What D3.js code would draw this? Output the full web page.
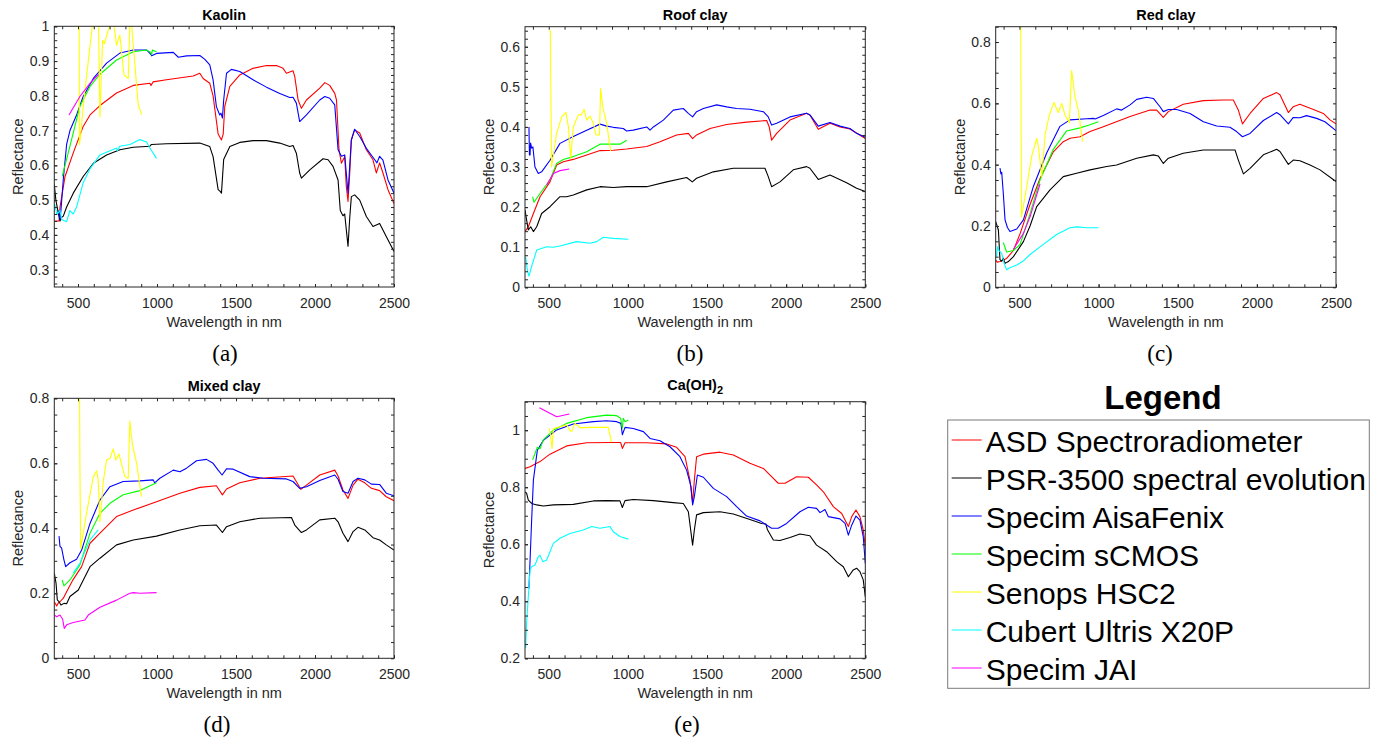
<!DOCTYPE html>
<html>
<head>
<meta charset="utf-8">
<script src="https://cdn.jsdelivr.net/npm/d3@7"></script>
<style>
  body { margin: 0; background: #fff; }
  svg { display: block; }
</style>
</head>
<body>
<svg id="canvas" width="1379" height="741"></svg>
<script>
// legend entries, in drawing order
let instruments = ["ASD Spectroradiometer", "PSR-3500 spectral evolution", "Specim AisaFenix",
  "Specim sCMOS", "Senops HSC2", "Cubert Ultris X20P", "Specim JAI"];
let colors = ["#ff0000", "#000000", "#0000ff", "#00ff00", "#ffff00", "#00ffff", "#ff00ff"];

let xTickValues = [500, 1000, 1500, 2000, 2500];
let kaolinYTicks = [0.3, 0.4, 0.5, 0.6, 0.7, 0.8, 0.9, 1];
let roofYTicks = [0, 0.1, 0.2, 0.3, 0.4, 0.5, 0.6];
let redYTicks = [0, 0.2, 0.4, 0.6, 0.8];
let mixedYTicks = [0, 0.2, 0.4, 0.6, 0.8];
let caYTicks = [0.2, 0.4, 0.6, 0.8, 1];

// [wavelength nm, reflectance]
let kaolinASD = [[350,0.44],[380,0.44],[386,0.48],[418,0.568],[470,0.636],[533,0.712],[576,0.745],[639,0.772],[744,0.808],[850,0.83],[955,0.836],[962,0.83],[975,0.84],[1060,0.846],[1229,0.857],[1271,0.865],[1292,0.85],[1334,0.836],[1355,0.80],[1387,0.69],[1408,0.673],[1419,0.69],[1429,0.77],[1461,0.827],[1524,0.86],[1608,0.879],[1693,0.887],[1756,0.887],[1798,0.879],[1819,0.865],[1861,0.872],[1872,0.855],[1893,0.788],[1914,0.764],[1946,0.788],[2030,0.822],[2062,0.838],[2093,0.83],[2125,0.807],[2136,0.788],[2152,0.645],[2167,0.606],[2188,0.625],[2198,0.54],[2209,0.496],[2220,0.578],[2230,0.673],[2251,0.702],[2283,0.693],[2325,0.645],[2367,0.616],[2388,0.578],[2409,0.607],[2430,0.578],[2462,0.53],[2500,0.49]];
let kaolinPSR = [[350,0.545],[360,0.5],[375,0.463],[386,0.44],[395,0.45],[407,0.454],[428,0.48],[470,0.52],[533,0.568],[597,0.606],[681,0.63],[765,0.645],[850,0.652],[955,0.655],[965,0.66],[1060,0.662],[1271,0.664],[1334,0.654],[1355,0.625],[1387,0.53],[1400,0.525],[1408,0.52],[1422,0.617],[1461,0.654],[1524,0.666],[1608,0.671],[1693,0.671],[1777,0.664],[1840,0.654],[1861,0.657],[1882,0.635],[1903,0.578],[1914,0.563],[1967,0.587],[2051,0.619],[2083,0.616],[2114,0.597],[2146,0.558],[2160,0.47],[2177,0.455],[2188,0.46],[2209,0.367],[2220,0.45],[2230,0.51],[2251,0.515],[2283,0.5],[2325,0.453],[2367,0.424],[2409,0.433],[2451,0.395],[2500,0.352]];
let kaolinFenix = [[378,0.47],[386,0.444],[392,0.47],[407,0.56],[428,0.66],[449,0.70],[491,0.745],[533,0.798],[597,0.85],[681,0.894],[765,0.923],[850,0.932],[934,0.932],[960,0.92],[966,0.915],[997,0.922],[1103,0.925],[1135,0.911],[1187,0.915],[1271,0.916],[1303,0.905],[1334,0.889],[1355,0.846],[1376,0.769],[1397,0.745],[1405,0.75],[1414,0.736],[1422,0.788],[1440,0.865],[1471,0.876],[1524,0.87],[1608,0.846],[1693,0.825],[1777,0.807],[1840,0.795],[1861,0.796],[1882,0.779],[1903,0.726],[1946,0.745],[2030,0.788],[2062,0.798],[2093,0.793],[2125,0.774],[2146,0.645],[2167,0.626],[2188,0.63],[2209,0.52],[2220,0.6],[2230,0.673],[2251,0.704],[2283,0.683],[2325,0.649],[2378,0.616],[2392,0.607],[2409,0.626],[2430,0.615],[2462,0.558],[2500,0.52]];
let kaolinSCMOS = [[400,0.568],[449,0.655],[512,0.77],[576,0.827],[639,0.862],[744,0.903],[850,0.927],[934,0.932],[960,0.925],[966,0.918],[971,0.932],[997,0.927]];
let kaolinHSC2 = [[506,1.3],[509,0.66],[515,0.68],[540,0.8],[565,0.9],[586,0.98],[600,1.05],[618,1.02],[630,1.0],[639,0.74],[656,0.96],[668,0.95],[685,0.98],[700,1.0],[723,1.02],[744,0.945],[765,0.975],[791,0.86],[818,0.85],[829,1.02],[840,1.0],[860,0.89],[881,0.775],[903,0.745]];
let kaolinCubert = [[354,0.487],[365,0.46],[375,0.463],[386,0.47],[397,0.444],[428,0.438],[449,0.47],[470,0.46],[491,0.48],[533,0.55],[576,0.59],[639,0.63],[744,0.65],[750,0.642],[765,0.655],[829,0.66],[892,0.674],[934,0.667],[955,0.65],[997,0.62]];
let kaolinJAI = [[443,0.745],[512,0.798],[576,0.836],[630,0.862]];

let roofASD = [[350,0.139],[371,0.151],[403,0.184],[445,0.226],[508,0.263],[550,0.305],[592,0.313],[655,0.319],[740,0.33],[824,0.341],[908,0.342],[992,0.345],[1119,0.351],[1203,0.363],[1308,0.38],[1382,0.384],[1409,0.371],[1434,0.38],[1519,0.396],[1624,0.406],[1750,0.412],[1877,0.416],[1893,0.40],[1908,0.367],[1940,0.384],[2024,0.417],[2129,0.434],[2150,0.43],[2203,0.394],[2277,0.409],[2340,0.40],[2403,0.395],[2500,0.371]];
let roofPSR = [[350,0.193],[360,0.168],[371,0.143],[386,0.151],[403,0.139],[424,0.151],[455,0.184],[508,0.201],[571,0.226],[613,0.226],[655,0.23],[740,0.243],[824,0.251],[908,0.249],[992,0.251],[1119,0.251],[1245,0.263],[1371,0.274],[1407,0.263],[1434,0.272],[1540,0.288],[1666,0.297],[1793,0.297],[1866,0.297],[1887,0.276],[1908,0.251],[1961,0.263],[2045,0.293],[2129,0.301],[2150,0.297],[2203,0.269],[2277,0.28],[2382,0.261],[2445,0.247],[2500,0.239]];
let roofFenix = [[375,0.40],[378,0.33],[382,0.33],[385,0.36],[392,0.347],[400,0.35],[413,0.30],[434,0.284],[455,0.288],[508,0.317],[571,0.359],[655,0.376],[740,0.392],[824,0.407],[866,0.402],[908,0.399],[971,0.396],[992,0.39],[1034,0.392],[1119,0.40],[1140,0.392],[1161,0.40],[1224,0.417],[1287,0.442],[1350,0.446],[1382,0.434],[1409,0.425],[1434,0.438],[1477,0.446],[1561,0.455],[1624,0.45],[1687,0.446],[1771,0.444],[1856,0.438],[1887,0.425],[1908,0.405],[1940,0.409],[2024,0.425],[2129,0.434],[2150,0.43],[2203,0.402],[2277,0.411],[2340,0.402],[2403,0.396],[2445,0.384],[2500,0.374]];
let roofSCMOS = [[398,0.226],[407,0.212],[445,0.234],[508,0.268],[550,0.309],[592,0.319],[655,0.326],[740,0.338],[824,0.357],[908,0.357],[950,0.357],[992,0.367]];
let roofHSC2 = [[504,0.64],[510,0.64],[518,0.30],[550,0.384],[582,0.425],[609,0.436],[624,0.40],[639,0.322],[655,0.40],[687,0.43],[705,0.43],[723,0.444],[740,0.417],[761,0.427],[782,0.409],[798,0.38],[820,0.38],[828,0.496],[841,0.45],[866,0.409],[891,0.34]];
let roofCubert = [[354,0.076],[365,0.043],[375,0.028],[392,0.052],[424,0.093],[487,0.101],[529,0.10],[571,0.103],[676,0.114],[761,0.11],[803,0.114],[845,0.125],[908,0.122],[1003,0.12]];
let roofJAI = [[487,0.255],[529,0.284],[571,0.291],[630,0.295]];

let redASD = [[350,0.089],[360,0.082],[377,0.084],[398,0.089],[419,0.094],[462,0.12],[504,0.175],[567,0.27],[630,0.355],[714,0.442],[777,0.475],[820,0.486],[883,0.491],[946,0.508],[1030,0.524],[1199,0.557],[1325,0.578],[1367,0.578],[1409,0.554],[1441,0.573],[1535,0.597],[1662,0.609],[1788,0.611],[1851,0.611],[1883,0.578],[1909,0.533],[1957,0.567],[2041,0.616],[2125,0.635],[2146,0.628],[2199,0.57],[2230,0.589],[2272,0.597],[2357,0.58],[2420,0.567],[2462,0.546],[2500,0.533]];
let redPSR = [[350,0.214],[367,0.187],[377,0.09],[388,0.085],[398,0.095],[409,0.078],[430,0.084],[462,0.10],[525,0.149],[567,0.2],[609,0.263],[693,0.318],[777,0.361],[861,0.372],[946,0.383],[1051,0.394],[1114,0.399],[1241,0.421],[1346,0.432],[1378,0.428],[1409,0.404],[1441,0.421],[1535,0.437],[1662,0.448],[1788,0.448],[1862,0.448],[1883,0.415],[1915,0.37],[1957,0.388],[2041,0.432],[2125,0.45],[2146,0.443],[2199,0.401],[2230,0.415],[2272,0.413],[2336,0.399],[2399,0.383],[2500,0.345]];
let redFenix = [[377,0.389],[383,0.37],[388,0.375],[398,0.307],[409,0.22],[424,0.195],[440,0.182],[483,0.19],[525,0.22],[588,0.329],[672,0.438],[756,0.525],[819,0.546],[925,0.55],[967,0.551],[978,0.549],[1030,0.56],[1114,0.582],[1146,0.578],[1199,0.595],[1241,0.613],[1304,0.62],[1346,0.616],[1388,0.589],[1409,0.573],[1441,0.58],[1493,0.58],[1578,0.567],[1662,0.54],[1746,0.526],[1830,0.522],[1872,0.508],[1909,0.491],[1957,0.502],[2041,0.544],[2125,0.57],[2146,0.563],[2199,0.533],[2230,0.554],[2272,0.553],[2314,0.56],[2378,0.551],[2430,0.54],[2500,0.511]];
let redSCMOS = [[398,0.146],[419,0.115],[462,0.12],[504,0.14],[567,0.24],[630,0.35],[714,0.45],[798,0.51],[883,0.52],[946,0.53],[999,0.54]];
let redHSC2 = [[505,1.2],[513,0.23],[546,0.328],[577,0.426],[609,0.486],[620,0.459],[641,0.361],[662,0.497],[689,0.562],[718,0.603],[746,0.57],[767,0.60],[788,0.562],[815,0.537],[830,0.707],[851,0.622],[872,0.578],[899,0.475]];
let redCubert = [[356,0.10],[362,0.133],[371,0.12],[388,0.111],[403,0.078],[419,0.057],[440,0.064],[483,0.073],[525,0.086],[567,0.107],[651,0.14],[735,0.172],[819,0.194],[861,0.197],[925,0.194],[999,0.194]];
let redJAI = [[462,0.124],[525,0.176],[567,0.23],[630,0.337]];

let mixedASD = [[350,0.174],[365,0.161],[375,0.17],[386,0.174],[407,0.185],[428,0.205],[470,0.243],[523,0.282],[576,0.354],[639,0.385],[744,0.436],[850,0.456],[997,0.482],[1145,0.508],[1271,0.526],[1376,0.531],[1414,0.503],[1440,0.521],[1524,0.54],[1651,0.554],[1861,0.561],[1889,0.538],[1910,0.52],[1946,0.533],[2030,0.564],[2125,0.579],[2146,0.561],[2177,0.518],[2209,0.492],[2241,0.533],[2272,0.551],[2315,0.54],[2357,0.523],[2409,0.516],[2451,0.497],[2500,0.485]];
let mixedPSR = [[350,0.262],[361,0.231],[369,0.18],[380,0.174],[392,0.164],[411,0.169],[428,0.168],[449,0.19],[502,0.21],[576,0.282],[639,0.308],[744,0.349],[850,0.364],[997,0.376],[1145,0.395],[1271,0.408],[1376,0.41],[1414,0.387],[1440,0.405],[1524,0.42],[1651,0.431],[1851,0.433],[1872,0.41],[1914,0.387],[1946,0.395],[2030,0.426],[2125,0.431],[2146,0.42],[2177,0.385],[2209,0.359],[2241,0.39],[2272,0.403],[2315,0.395],[2367,0.371],[2409,0.364],[2451,0.349],[2500,0.333]];
let mixedFenix = [[380,0.376],[386,0.344],[396,0.34],[411,0.303],[422,0.282],[449,0.294],[491,0.305],[523,0.333],[576,0.415],[639,0.487],[702,0.528],[786,0.544],[892,0.546],[976,0.549],[985,0.54],[1018,0.554],[1103,0.579],[1145,0.574],[1187,0.585],[1250,0.608],[1313,0.612],[1355,0.60],[1387,0.579],[1412,0.564],[1440,0.583],[1482,0.582],[1587,0.559],[1672,0.554],[1819,0.552],[1861,0.544],[1903,0.523],[1946,0.528],[2030,0.547],[2125,0.564],[2146,0.551],[2177,0.513],[2209,0.508],[2241,0.544],[2272,0.554],[2315,0.549],[2357,0.536],[2409,0.535],[2451,0.508],[2500,0.50]];
let mixedSCMOS = [[400,0.241],[411,0.223],[449,0.241],[512,0.287],[576,0.385],[639,0.446],[702,0.477],[786,0.503],[892,0.516],[997,0.54]];
let mixedHSC2 = [[506,1.2],[512,0.6],[517,0.338],[554,0.446],[597,0.559],[618,0.577],[628,0.549],[639,0.42],[660,0.544],[681,0.61],[702,0.615],[723,0.644],[740,0.61],[759,0.629],[780,0.59],[797,0.559],[818,0.554],[828,0.73],[845,0.656],[871,0.60],[902,0.497]];
let mixedCubert = [[470,0.262],[512,0.292],[576,0.364],[628,0.395]];
let mixedJAI = [[350,0.133],[365,0.128],[386,0.133],[403,0.12],[413,0.092],[428,0.103],[470,0.11],[544,0.118],[565,0.133],[639,0.157],[744,0.179],[828,0.20],[850,0.202],[892,0.20],[997,0.202]];

let caASD = [[350,0.866],[382,0.872],[445,0.89],[508,0.916],[613,0.945],[740,0.956],[887,0.957],[954,0.957],[965,0.936],[982,0.956],[1119,0.956],[1245,0.952],[1308,0.94],[1361,0.907],[1392,0.825],[1409,0.744],[1420,0.825],[1434,0.907],[1477,0.916],[1582,0.923],[1666,0.913],[1771,0.884],[1856,0.866],[1908,0.837],[1950,0.814],[1993,0.814],[2066,0.837],[2140,0.835],[2192,0.808],[2235,0.784],[2298,0.732],[2351,0.708],[2393,0.662],[2414,0.697],[2441,0.72],[2466,0.697],[2487,0.65],[2500,0.592]];
let caPSR = [[350,0.784],[360,0.779],[371,0.755],[392,0.743],[424,0.738],[466,0.734],[529,0.738],[655,0.74],[782,0.752],[866,0.753],[950,0.752],[965,0.729],[982,0.753],[1034,0.757],[1161,0.753],[1287,0.746],[1350,0.743],[1382,0.714],[1409,0.597],[1420,0.65],[1434,0.703],[1477,0.711],[1582,0.714],[1666,0.706],[1771,0.687],[1845,0.673],[1872,0.671],[1881,0.652],[1919,0.615],[1961,0.613],[2024,0.624],[2087,0.636],[2150,0.63],[2192,0.597],[2256,0.574],[2319,0.539],[2361,0.521],[2393,0.486],[2424,0.51],[2445,0.516],[2466,0.504],[2487,0.475],[2500,0.416]];
let caFenix = [[375,0.445],[392,0.685],[403,0.825],[428,0.93],[466,0.965],[550,1.001],[655,1.022],[782,1.03],[866,1.033],[929,1.03],[956,1.024],[965,0.984],[982,1.01],[1034,1.006],[1098,0.995],[1140,0.971],[1203,0.963],[1266,0.942],[1329,0.907],[1371,0.86],[1399,0.802],[1409,0.738],[1420,0.767],[1439,0.843],[1477,0.835],[1540,0.796],[1624,0.767],[1687,0.732],[1750,0.699],[1835,0.682],[1908,0.656],[1950,0.656],[2003,0.673],[2087,0.714],[2140,0.73],[2192,0.726],[2214,0.711],[2245,0.722],[2266,0.697],[2340,0.689],[2372,0.673],[2393,0.632],[2414,0.667],[2441,0.699],[2466,0.685],[2487,0.627],[2500,0.533]];
let caSCMOS = [[398,0.896],[428,0.94],[445,0.935],[466,0.966],[529,1.0],[613,1.024],[740,1.044],[866,1.053],[929,1.051],[954,1.042],[965,1.007],[971,1.042],[982,1.03],[1003,1.036]];
let caHSC2 = [[504,1.006],[512,0.977],[521,0.936],[529,1.006],[571,1.012],[613,1.018],[634,1.0],[645,0.995],[666,1.024],[697,1.009],[782,1.01],[876,1.01],[897,0.958]];
let caCubert = [[354,0.235],[360,0.323],[371,0.416],[382,0.51],[392,0.521],[413,0.527],[434,0.556],[445,0.562],[462,0.539],[487,0.545],[529,0.603],[571,0.621],[634,0.638],[718,0.65],[771,0.662],[824,0.656],[887,0.662],[908,0.644],[950,0.627],[1003,0.618]];
let caJAI = [[441,1.079],[550,1.047],[630,1.057]];

let panels = [
  { title: "Kaolin", caption: "(a)", left: 54.3, right: 394, top: 26.3, bottom: 287, titleY: 20, capX: 225, capY: 361,
    yDomain: [0.25, 1], yTicks: kaolinYTicks, yMinor: 0.02,
    series: [kaolinASD, kaolinPSR, kaolinFenix, kaolinSCMOS, kaolinHSC2, kaolinCubert, kaolinJAI] },
  { title: "Roof clay", caption: "(b)", left: 525, right: 865.3, top: 26.7, bottom: 287.3, titleY: 20, capX: 690, capY: 361,
    yDomain: [0, 0.65], yTicks: roofYTicks, yMinor: 0.02,
    series: [roofASD, roofPSR, roofFenix, roofSCMOS, roofHSC2, roofCubert, roofJAI] },
  { title: "Red clay", caption: "(c)", left: 995.7, right: 1336, top: 26.7, bottom: 287.3, titleY: 20, capX: 1160, capY: 361,
    yDomain: [0, 0.85], yTicks: redYTicks, yMinor: 0.05,
    series: [redASD, redPSR, redFenix, redSCMOS, redHSC2, redCubert, redJAI] },
  { title: "Mixed clay", caption: "(d)", left: 54.3, right: 394, top: 398.3, bottom: 658.3, titleY: 391, capX: 217, capY: 732,
    yDomain: [0, 0.8], yTicks: mixedYTicks, yMinor: 0.05,
    series: [mixedASD, mixedPSR, mixedFenix, mixedSCMOS, mixedHSC2, mixedCubert, mixedJAI] },
  { title: "Ca(OH)", sub: "2", caption: "(e)", left: 525, right: 865.3, top: 401.7, bottom: 658.3, titleY: 390, capX: 687, capY: 732,
    yDomain: [0.2, 1.1], yTicks: caYTicks, yMinor: 0.05,
    series: [caASD, caPSR, caFenix, caSCMOS, caHSC2, caCubert, caJAI] }
];

let canvas = d3.select("#canvas");
canvas.append("rect").attr("width", 1379).attr("height", 741).attr("fill", "#fff");

let axisColor = "#262626";
let sans = "'Liberation Sans', Arial, Helvetica, sans-serif";

let styleAxis = (g) => {
  g.select(".domain").remove();
  g.selectAll("line").attr("stroke", axisColor);
  g.selectAll("text").attr("fill", axisColor).style("font-family", sans).style("font-size", "14px");
};

panels.forEach((p, i) => {
  let x = d3.scaleLinear().domain([350, 2500]).range([p.left, p.right]);
  let y = d3.scaleLinear().domain(p.yDomain).range([p.bottom, p.top]);
  let g = canvas.append("g");

  g.append("clipPath").attr("id", "clip" + i)
    .append("rect")
    .attr("x", p.left).attr("y", p.top)
    .attr("width", p.right - p.left).attr("height", p.bottom - p.top);

  let line = d3.line().x((d) => x(d[0])).y((d) => y(d[1]));

  g.append("g").attr("clip-path", "url(#clip" + i + ")")
    .selectAll("path")
    .data(p.series)
    .enter()
    .append("path")
    .attr("d", (s) => line(s))
    .attr("fill", "none")
    .attr("stroke", (s, k) => colors[k])
    .attr("stroke-width", 1.1)
    .attr("stroke-linejoin", "round");

  let xMinor = d3.range(400, 2501, 100);
  let yMinor = d3.range(Math.ceil(p.yDomain[0] / p.yMinor - 1e-6), Math.floor(p.yDomain[1] / p.yMinor + 1e-6) + 1)
    .map((k) => +(k * p.yMinor).toFixed(3));
  let fmt = d3.format("~g");

  // bottom axis with labels, minor ticks all round
  g.append("g").attr("transform", "translate(0," + p.bottom + ")")
    .call(d3.axisBottom(x).tickValues(xTickValues).tickFormat(fmt).tickSize(-3).tickPadding(11))
    .call(styleAxis);
  g.append("g").attr("transform", "translate(0," + p.bottom + ")")
    .call(d3.axisBottom(x).tickValues(xMinor).tickFormat("").tickSize(-3))
    .call(styleAxis);
  g.append("g").attr("transform", "translate(0," + p.top + ")")
    .call(d3.axisTop(x).tickValues(xMinor).tickFormat("").tickSize(-3))
    .call(styleAxis);

  g.append("g").attr("transform", "translate(" + p.left + ",0)")
    .call(d3.axisLeft(y).tickValues(p.yTicks).tickFormat(fmt).tickSize(-3).tickPadding(5))
    .call(styleAxis);
  g.append("g").attr("transform", "translate(" + p.left + ",0)")
    .call(d3.axisLeft(y).tickValues(yMinor).tickFormat("").tickSize(-3))
    .call(styleAxis);
  g.append("g").attr("transform", "translate(" + p.right + ",0)")
    .call(d3.axisRight(y).tickValues(yMinor).tickFormat("").tickSize(-3))
    .call(styleAxis);

  g.append("rect")
    .attr("x", p.left).attr("y", p.top)
    .attr("width", p.right - p.left).attr("height", p.bottom - p.top)
    .attr("fill", "none").attr("stroke", axisColor).attr("stroke-width", 1);

  let title = g.append("text")
    .attr("x", (p.left + p.right) / 2).attr("y", p.titleY)
    .attr("text-anchor", "middle")
    .style("font-family", sans).style("font-size", "14.4px").style("font-weight", "bold")
    .text(p.title);
  if (p.sub) {
    title.append("tspan").attr("dy", 4).style("font-size", "11px").text(p.sub);
  }

  g.append("text")
    .attr("x", (p.left + p.right) / 2).attr("y", p.bottom + 39.5)
    .attr("text-anchor", "middle").attr("fill", axisColor)
    .style("font-family", sans).style("font-size", "14.5px")
    .text("Wavelength in nm");

  g.append("text")
    .attr("transform", "translate(" + (p.left - 31) + "," + (p.top + p.bottom) / 2 + ") rotate(-90)")
    .attr("text-anchor", "middle").attr("fill", axisColor)
    .style("font-family", sans).style("font-size", "14.5px")
    .text("Reflectance");

  g.append("text")
    .attr("x", p.capX).attr("y", p.capY)
    .attr("text-anchor", "middle")
    .style("font-family", "'Liberation Serif', 'Times New Roman', serif").style("font-size", "23px")
    .text(p.caption);
});

// legend panel
let legend = canvas.append("g");
legend.append("text")
  .attr("x", 1163).attr("y", 409)
  .attr("text-anchor", "middle")
  .style("font-family", sans).style("font-size", "33px").style("font-weight", "bold")
  .text("Legend");
legend.append("rect")
  .attr("x", 947.7).attr("y", 420)
  .attr("width", 421.6).attr("height", 268.3)
  .attr("fill", "#fff").attr("stroke", "#7a7a7a").attr("stroke-width", 1);

let rowY = d3.scalePoint().domain(instruments).range([451.7, 679.7]);

let items = legend.selectAll(".item").data(instruments).enter().append("g").attr("class", "item");
items.append("line")
  .attr("x1", 951.7).attr("x2", 981.7)
  .attr("y1", (d) => rowY(d) - 11.7).attr("y2", (d) => rowY(d) - 11.7)
  .attr("stroke", (d, k) => colors[k]).attr("stroke-width", 1);
items.append("text")
  .attr("x", 985.7).attr("y", (d) => rowY(d))
  .style("font-family", sans).style("font-size", "30px")
  .text((d) => d);
</script>
</body>
</html>
